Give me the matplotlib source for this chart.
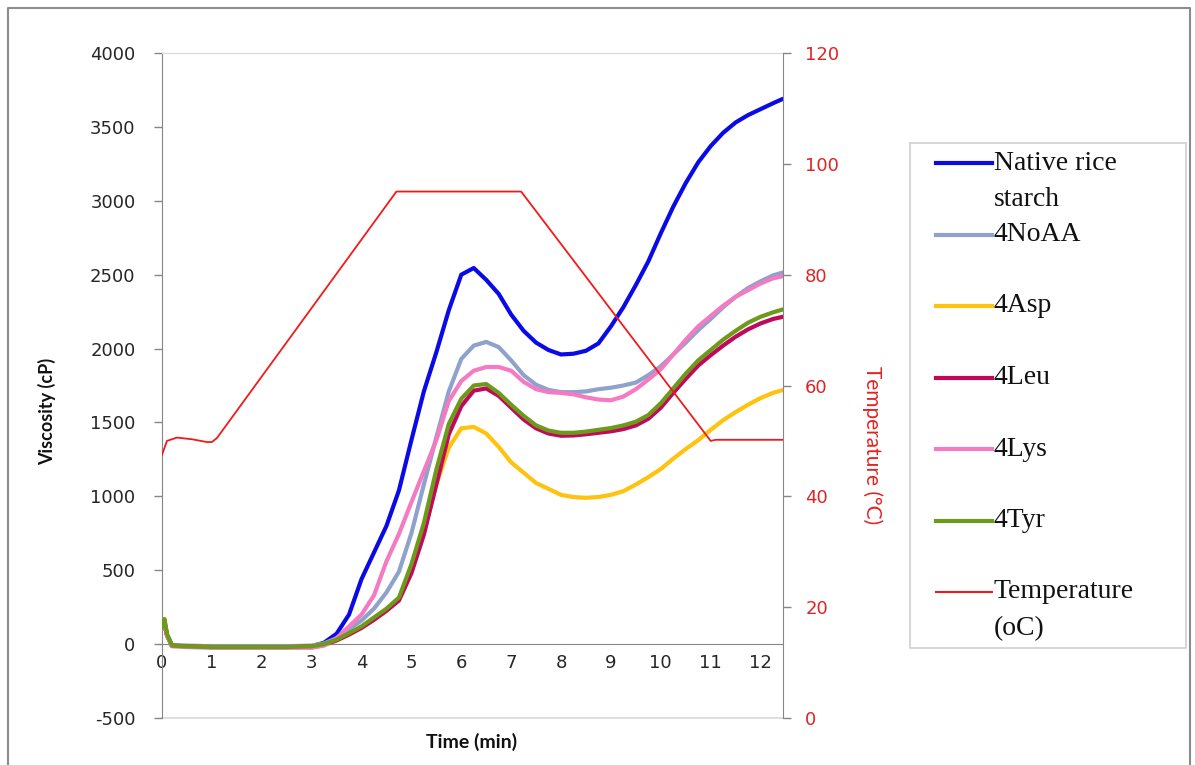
import matplotlib
matplotlib.use("Agg")
import matplotlib.pyplot as plt
from matplotlib.lines import Line2D
from matplotlib.patches import Rectangle

plt.rcParams["axes.unicode_minus"] = False

# ---------------- data ----------------
time_min = [0, 0.05, 0.1, 0.2, 0.5, 1.0, 1.5, 2.0, 2.5, 3.0, 3.25, 3.5, 3.75,
            4.0, 4.25, 4.5, 4.75, 5.0, 5.25, 5.5, 5.75, 6.0, 6.25, 6.5, 6.75,
            7.0, 7.25, 7.5, 7.75, 8.0, 8.25, 8.5, 8.75, 9.0, 9.25, 9.5, 9.75,
            10.0, 10.25, 10.5, 10.75, 11.0, 11.25, 11.5, 11.75, 12.0, 12.25, 12.45]

native = [100, 150, 60, -10, -15, -20, -20, -20, -20, -15, 10, 70, 200,
          440, 620, 800, 1040, 1380, 1710, 1975, 2260, 2500, 2545, 2465, 2370,
          2230, 2120, 2040, 1990, 1960, 1965, 1985, 2035, 2150, 2280, 2430, 2590,
          2780, 2960, 3120, 3260, 3370, 3460, 3530, 3580, 3620, 3660, 3690]

noaa = [100, 150, 60, -5, -10, -15, -15, -15, -15, -10, 5, 40, 100,
        160, 240, 350, 490, 750, 1080, 1400, 1710, 1930, 2020, 2045, 2010,
        1920, 1820, 1755, 1720, 1705, 1705, 1710, 1725, 1735, 1750, 1770, 1820,
        1880, 1960, 2040, 2125, 2200, 2280, 2350, 2410, 2455, 2495, 2515]

asp = [100, 150, 60, -10, -15, -20, -20, -20, -20, -15, -5, 25, 65,
       110, 165, 230, 300, 490, 760, 1080, 1330, 1460, 1470, 1425, 1335,
       1230, 1160, 1090, 1050, 1010, 995, 990, 995, 1010, 1035, 1080, 1130,
       1185, 1255, 1320, 1380, 1450, 1515, 1570, 1620, 1665, 1700, 1720]

leu = [100, 150, 60, -10, -15, -20, -20, -20, -20, -15, -5, 25, 65,
       110, 165, 225, 295, 480, 740, 1080, 1420, 1610, 1715, 1730, 1680,
       1600, 1520, 1460, 1425, 1410, 1412, 1420, 1430, 1440, 1455, 1480, 1525,
       1600, 1700, 1795, 1885, 1955, 2020, 2080, 2130, 2170, 2200, 2215]

lys = [100, 150, 60, -15, -20, -25, -25, -25, -25, -25, -10, 40, 120,
       200, 330, 560, 745, 960, 1170, 1380, 1645, 1780, 1850, 1875, 1875,
       1850, 1775, 1725, 1705, 1700, 1690, 1670, 1655, 1650, 1675, 1725, 1790,
       1860, 1960, 2060, 2150, 2220, 2290, 2350, 2395, 2440, 2475, 2490]

tyr = [110, 170, 70, -10, -15, -20, -20, -20, -20, -15, 0, 30, 74,
       120, 180, 240, 315, 540, 820, 1180, 1490, 1660, 1750, 1760, 1700,
       1620, 1545, 1480, 1445, 1430, 1430, 1438, 1450, 1462, 1480, 1505, 1550,
       1630, 1730, 1830, 1920, 1990, 2060, 2120, 2175, 2215, 2245, 2265]

temp_time = [0, 0.1, 0.3, 0.6, 0.9, 1.0, 1.1, 4.7, 4.8, 7.2, 11.0, 11.1, 12.45]
temp_c = [47.5, 50.0, 50.6, 50.3, 49.8, 49.8, 50.5, 95.0, 95.0, 95.0, 50.0, 50.2, 50.2]

series_labels = ["Native rice\nstarch", "4NoAA", "4Asp", "4Leu", "4Lys", "4Tyr"]
series_colors = ["#0A0AE6", "#8FA2CB", "#FFC20E", "#C0095A", "#F47BC2", "#6E9A1C"]
temp_label = "Temperature\n(oC)"
temp_color = "#F01A1A"

x_ticks = list(range(0, 13))
visc_ticks = list(range(-500, 4001, 500))
temp_ticks = list(range(0, 121, 20))

# ---------------- figure ----------------
W, H = 1195, 765
fig = plt.figure(figsize=(W / 100, H / 100), dpi=100)

def fx(px):
    return px / W

def fy(py):
    return 1 - py / H

L, R, T, B = 162, 783, 53, 718
ax = fig.add_axes([fx(L), fy(B), fx(R) - fx(L), fy(T) - fy(B)])

for vals, col in zip([native, noaa, asp, leu, lys, tyr], series_colors):
    ax.plot(time_min, vals, color=col, lw=3.0, solid_capstyle="round",
            solid_joinstyle="round", zorder=3)

ax.set_xlim(0, 12.45)
ax.set_ylim(-500, 4000)
ax.set_xticks(x_ticks)
ax.set_yticks(visc_ticks)

grey = "#868686"
ax.spines["bottom"].set_position(("data", 0))
ax.spines["bottom"].set_color(grey)
ax.spines["left"].set_color(grey)
ax.spines["top"].set_color("#D9D9D9")
ax.spines["right"].set_visible(False)
ax.plot([0, 1], [0, 0], transform=ax.transAxes, color="#D9D9D9", lw=1.2,
        clip_on=False, zorder=1)

ax.tick_params(axis="x", length=0, pad=7, labelsize=13, labelcolor="#262626",
               labelfontfamily="DejaVu Sans")
ax.tick_params(axis="y", length=6, width=1, color=grey, direction="out", pad=13,
               labelsize=13, labelcolor="#262626", labelfontfamily="DejaVu Sans")

ax2 = ax.twinx()
ax2.plot(temp_time, temp_c, color=temp_color, lw=1.3, zorder=4)
ax2.set_ylim(0, 120)
ax2.set_yticks(temp_ticks)
for s in ["top", "bottom", "left"]:
    ax2.spines[s].set_visible(False)
ax2.spines["right"].set_color(grey)
ax2.tick_params(axis="y", length=6, width=1, color=grey, direction="out", pad=10,
                labelsize=13, labelcolor="#E02424", labelfontfamily="DejaVu Sans")

# axis titles
fig.text(fx(47), fy(411), "Viscosity (cP)", rotation=90, ha="center", va="center",
         fontsize=13, fontweight="bold", family="Lato", color="#111111")
fig.text(fx(472), fy(742), "Time (min)", ha="center", va="center",
         fontsize=14, fontweight="bold", family="Lato", color="#111111")
fig.text(fx(872), fy(445), "Temperature (°C)", rotation=270, ha="center", va="center",
         fontsize=15, family="Lato", color="#E02424")

# legend (drawn manually to mimic spreadsheet layout)
fig.patches.append(Rectangle((fx(910), fy(648)), fx(1186) - fx(910), fy(143) - fy(648),
                             transform=fig.transFigure, facecolor="white",
                             edgecolor="#D0D0D0", lw=1.2))
entry_y = [163, 234.5, 306, 377.5, 449, 520.5, 592]
all_labels = series_labels + [temp_label]
all_colors = series_colors + [temp_color]
all_lw = [3.0] * 6 + [1.5]
for yy, lab, col, lw in zip(entry_y, all_labels, all_colors, all_lw):
    fig.add_artist(Line2D([fx(936), fx(992)], [fy(yy), fy(yy)], transform=fig.transFigure,
                          color=col, lw=lw))
    for k, line in enumerate(lab.split("\n")):
        fig.text(fx(994), fy(yy + 37 * k), line, ha="left", va="center",
                 fontsize=20, family="Liberation Serif", color="#111111")

# outer border
fig.add_artist(Line2D([fx(8), fx(8), fx(1190), fx(1190)], [0, fy(8), fy(8), 0],
                      transform=fig.transFigure, color="#8C8C8C", lw=1.5))

fig.savefig("out.png", dpi=100)
